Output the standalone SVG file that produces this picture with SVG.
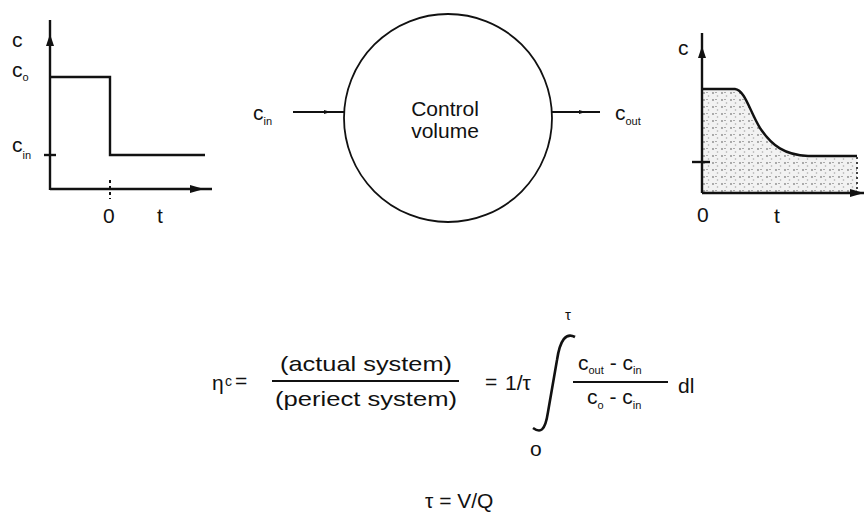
<svg xmlns="http://www.w3.org/2000/svg" width="864" height="519" viewBox="0 0 864 519">
<style>
text{font-family:"Liberation Sans","DejaVu Sans",sans-serif;fill:#111}
.t{font-size:21px}
.sub{font-size:11px}
.ln{stroke:#111;stroke-width:2.4;fill:none}
.thin{stroke:#111;stroke-width:1.8;fill:none}
.head{fill:#111}
</style>
<defs>
<marker id="ah" viewBox="0 0 10 10" refX="6" refY="5" markerWidth="7" markerHeight="7" orient="auto" markerUnits="userSpaceOnUse">
<path d="M0,2 L10,5 L0,8 z" fill="#111"/>
</marker>
<pattern id="stip" width="9" height="7" patternUnits="userSpaceOnUse">
<rect width="9" height="7" fill="#f2f2f2"/>
<circle cx="2" cy="2" r="0.9" fill="#888"/>
<circle cx="6.5" cy="5" r="0.8" fill="#aaa"/>
<rect x="4" y="1" width="2" height="0.8" fill="#999"/>
</pattern>
</defs>
<rect width="864" height="519" fill="#fff"/>

<g id="left-graph">
<path class="ln" d="M50 190 L50 20"/>
<path class="head" d="M50 34 L46 46 L54 46 Z"/>
<path class="ln" d="M50 189 L212 189"/>
<path class="head" d="M204 189 L190 185 L190 193 Z"/>
<path class="ln" d="M50 77 L110 77 L110 155 L205 155"/>
<path class="ln" d="M44 155 L56 155"/>
<path d="M110 180 L110 199" stroke="#111" stroke-width="2" stroke-dasharray="3 3"/>
<text class="t" x="12" y="47">c</text>
<text class="t" x="12" y="77">c<tspan class="sub" dy="4">o</tspan></text>
<text class="t" x="12" y="152">c<tspan class="sub" dy="7">in</tspan></text>
<text class="t" x="103" y="223">0</text>
<text class="t" x="157" y="223">t</text>
</g>

<g id="control-volume">
<circle cx="448" cy="118" r="104" class="thin"/>
<text class="t" x="445" y="116" text-anchor="middle">Control</text>
<text class="t" x="445" y="138" text-anchor="middle">volume</text>
</g>

<g id="input-label">
<text class="t" x="253" y="120">c<tspan class="sub" dy="5">in</tspan></text>
</g>
<g id="output-label">
<text class="t" x="615" y="120">c<tspan class="sub" dy="5">out</tspan></text>
</g>

<g id="connectors">
<path class="thin" d="M293 112 L328 112 L344 112" marker-mid="url(#ah)"/>
<path class="thin" d="M552 112 L583 112 L600 112" marker-mid="url(#ah)"/>
</g>

<g id="right-graph">
<path d="M702 89 L735 89 C745 90 750 112 760 128 C772 146 785 155 808 156 L857 156 L857 193 L702 193 Z" fill="url(#stip)"/>
<path class="ln" d="M702 193 L702 33"/>
<path class="head" d="M702 46 L698 58 L706 58 Z"/>
<path class="ln" d="M702 193 L864 193"/>
<path class="head" d="M864 193 L850 189 L850 197 Z"/>
<path class="ln" d="M702 89 L735 89 C745 90 750 112 760 128 C772 146 785 155 808 156 L857 156"/>
<path d="M857 157 L857 192" stroke="#444" stroke-width="2" stroke-dasharray="2 3"/>
<path class="ln" d="M692 162 L710 162"/>
<text class="t" x="678" y="55">c</text>
<text class="t" x="697" y="222">0</text>
<text class="t" x="774" y="223">t</text>
</g>

<g id="formula">
<text class="t" x="212" y="390">η</text>
<text style="font-size:14px" x="225" y="386">c</text>
<text class="t" x="235" y="388">=</text>
<text class="t" x="366" y="371" text-anchor="middle" textLength="172" lengthAdjust="spacingAndGlyphs">(actual system)</text>
<path class="thin" d="M272 381 L459 381"/>
<text class="t" x="366" y="406" text-anchor="middle" textLength="182" lengthAdjust="spacingAndGlyphs">(periect system)</text>
<text class="t" x="485" y="389">=</text>
<text class="t" x="505" y="390">1/τ</text>
<path d="M575 337 C566 332 560 340 557 360 L548 412 C545 432 540 433 533 428" stroke="#111" stroke-width="2.6" fill="none"/>
<text style="font-size:15px" x="565" y="320">τ</text>
<text class="t" x="530" y="456">o</text>
<text class="t" x="578" y="370">c<tspan class="sub" dy="4">out</tspan><tspan dy="-4"> - c</tspan><tspan class="sub" dy="4">in</tspan></text>
<path class="thin" d="M573 382 L668 382"/>
<text class="t" x="587" y="404">c<tspan class="sub" dy="5">o</tspan><tspan dy="-5"> - c</tspan><tspan class="sub" dy="5">in</tspan></text>
<text class="t" x="678" y="393">dl</text>
<text class="t" x="425" y="508">τ = V/Q</text>
</g>
</svg>
